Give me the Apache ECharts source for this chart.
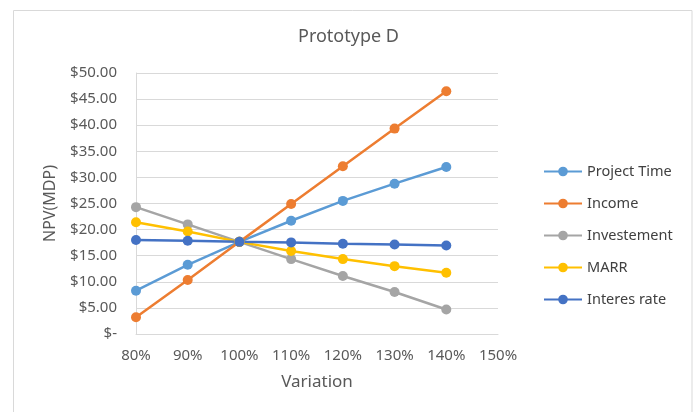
<!DOCTYPE html>
<html><head><meta charset="utf-8">
<script src="https://cdn.jsdelivr.net/npm/echarts@6/dist/echarts.min.js"></script>
<style>html,body{margin:0;padding:0;background:#fff}#c{width:697px;height:412px}</style>
</head><body><div id="c"></div>
<script>
const categories = ['80%','90%','100%','110%','120%','130%','140%','150%'];
const projectTime = [8.3, 13.25, 17.65, 21.7, 25.5, 28.8, 32.0];
const income = [3.2, 10.35, 17.65, 24.9, 32.15, 39.35, 46.5];
const investement = [24.3, 21.0, 17.65, 14.35, 11.1, 8.05, 4.7];
const marr = [21.4, 19.65, 17.65, 15.9, 14.35, 13.0, 11.75];
const interesRate = [18.0, 17.85, 17.65, 17.55, 17.3, 17.15, 16.95];
const seriesNames = ['Project Time','Income','Investement','MARR','Interes rate'];
const colors = ['#5B9BD5','#ED7D31','#A5A5A5','#FFC000','#4472C4'];
const dataSets = [projectTime, income, investement, marr, interesRate];
const font = 'Noto Sans';
const chart = echarts.init(document.getElementById('c'));
chart.setOption({
  animation:false,
  color: colors,
  graphic:[{type:'rect',shape:{x:13.5,y:10.5,width:678.5,height:420},style:{fill:'none',stroke:'#d9d9d9',lineWidth:1}}],
  title:{text:'Prototype D',left:'center',top:23,textStyle:{fontFamily:font,fontSize:18,fontWeight:'normal',color:'#595959'}},
  legend:{orient:'vertical',left:538,top:159,itemGap:17,itemWidth:38,itemHeight:12,
    textStyle:{fontFamily:font,fontSize:14.5,color:'#404040'},data:seriesNames},
  grid:{left:136,right:199,top:73,bottom:78},
  xAxis:{type:'category',data:categories,boundaryGap:false,
    name:'Variation',nameLocation:'middle',nameGap:40,
    nameTextStyle:{fontFamily:font,fontSize:17,color:'#595959'},
    axisLine:{lineStyle:{color:'#d9d9d9'}},axisTick:{show:false},
    axisLabel:{fontFamily:font,fontSize:15,color:'#595959',margin:14},
    splitLine:{show:false}},
  yAxis:{type:'value',min:0,max:50,interval:5,
    name:'NPV(MDP)',nameLocation:'middle',nameGap:78,
    nameTextStyle:{fontFamily:font,fontSize:16,color:'#595959'},
    axisLine:{show:true,lineStyle:{color:'#d9d9d9'}},axisTick:{show:false},
    axisLabel:{fontFamily:font,fontSize:15,color:'#595959',margin:19,
      formatter:v=>v===0?'$-':'$'+v.toFixed(2)},
    splitLine:{lineStyle:{color:'#d9d9d9'}}},
  series: seriesNames.map((n,i)=>({name:n,type:'line',data:dataSets[i],
    symbol:'circle',symbolSize:10,lineStyle:{width:2.5},itemStyle:{color:colors[i]}}))
});
</script></body></html>
